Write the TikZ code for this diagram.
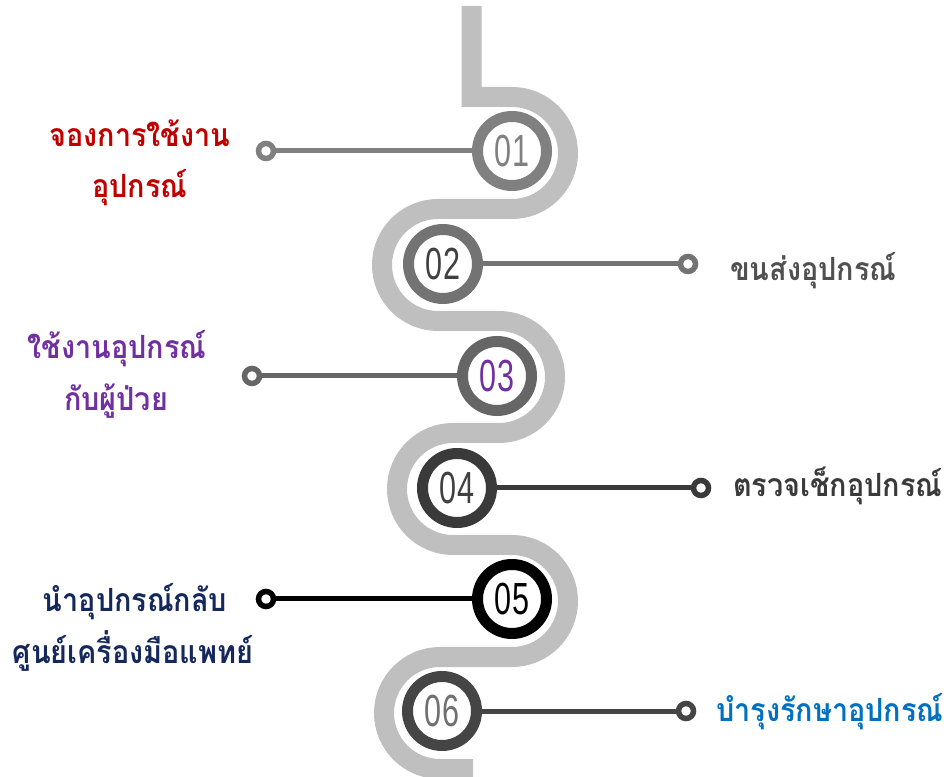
\documentclass[tikz,border=0pt]{standalone}
\usepackage{fontspec}
\newfontfamily\thaifont[Script=Thai,FakeStretch=0.9]{Loma}
\newfontfamily\numfont[FakeStretch=0.68]{Liberation Sans}
\definecolor{snakegray}{HTML}{BFBFBF}
\definecolor{ringA}{HTML}{808080}
\definecolor{ringB}{HTML}{737373}
\definecolor{ringC}{HTML}{666666}
\definecolor{ringD}{HTML}{3A3A3A}
\definecolor{ringE}{HTML}{000000}
\definecolor{ringF}{HTML}{454545}
\definecolor{numA}{HTML}{808080}
\definecolor{numB}{HTML}{404040}
\definecolor{numC}{HTML}{7030A0}
\definecolor{numD}{HTML}{404040}
\definecolor{numE}{HTML}{000000}
\definecolor{numF}{HTML}{707070}
\definecolor{txtred}{HTML}{C00000}
\definecolor{txtgrayA}{HTML}{505050}
\definecolor{txtpurple}{HTML}{7030A0}
\definecolor{txtgrayB}{HTML}{3A3A3A}
\definecolor{txtnavy}{HTML}{14285C}
\definecolor{txtblue}{HTML}{0070C0}
\tikzset{
  numring/.style={circle, minimum size=69pt, line width=11pt, fill=white, inner sep=0pt,
    font=\numfont\fontsize{45}{45}\selectfont},
  enddot/.style={circle, minimum size=15pt, line width=5.5pt, fill=white, inner sep=0pt, draw},
  link/.style={line width=5pt},
  label/.style={font=\thaifont\bfseries\fontsize{32}{36}\selectfont, inner sep=0pt},
}
\begin{document}
\begin{tikzpicture}[x=1pt,y=1pt]
\useasboundingbox (0,0) rectangle (944,776);
% snake path
\draw[snakegray, line width=20pt, line join=miter]
  (471.5,770) -- (471.5,679) -- (512,679)
  arc[start angle=90, end angle=-90, radius=56] -- (438,567)
  arc[start angle=90, end angle=270, radius=56] -- (499,455)
  arc[start angle=90, end angle=-90, radius=56] -- (453,343)
  arc[start angle=90, end angle=270, radius=56] -- (512,231)
  arc[start angle=90, end angle=-90, radius=56] -- (440,119)
  arc[start angle=90, end angle=270, radius=56] -- (473,7);
% number rings
\node[numring, draw=ringA, text=numA] (c1) at (512,625) {01};
\node[numring, draw=ringB, text=numB] (c2) at (443,512) {02};
\node[numring, draw=ringC, text=numC] (c3) at (497,400) {03};
\node[numring, draw=ringD, text=numD] (c4) at (457,288) {04};
\node[numring, draw=ringE, text=numE] (c5) at (512,177) {05};
\node[numring, draw=ringF, text=numF] (c6) at (442,65) {06};
% end dots
\node[enddot, draw=ringA] (s1) at (266,625) {};
\node[enddot, draw=ringB] (s2) at (688,512) {};
\node[enddot, draw=ringC] (s3) at (252,400) {};
\node[enddot, draw=ringD] (s4) at (701,288) {};
\node[enddot, draw=ringE] (s5) at (266,177) {};
\node[enddot, draw=ringF] (s6) at (686,65) {};
% links
\draw[link, ringA] (s1) -- (c1);
\draw[link, ringB] (c2) -- (s2);
\draw[link, ringC] (s3) -- (c3);
\draw[link, ringD] (c4) -- (s4);
\draw[link, ringE] (s5) -- (c5);
\draw[link, ringF] (c6) -- (s6);
% labels
\node[label, text=txtred, anchor=base] (t1a) at (140,629) {จองการใช้งาน};
\node[label, text=txtred, anchor=base] (t1b) at (140,578) {อุปกรณ์};
\node[label, text=txtgrayA, anchor=base west] (t2) at (730,495) {ขนส่งอุปกรณ์};
\node[label, text=txtpurple, anchor=base] (t3a) at (117,417) {ใช้งานอุปกรณ์};
\node[label, text=txtpurple, anchor=base] (t3b) at (116,365) {กับผู้ป่วย};
\node[label, text=txtgrayB, anchor=base west] (t4) at (733,279) {ตรวจเช็กอุปกรณ์};
\node[label, text=txtnavy, anchor=base] (t5a) at (135,164) {นำอุปกรณ์กลับ};
\node[label, text=txtnavy, anchor=base] (t5b) at (133,112) {ศูนย์เครื่องมือแพทย์};
\node[label, text=txtblue, anchor=base west] (t6) at (716,55) {บำรุงรักษาอุปกรณ์};
\end{tikzpicture}
\end{document}
